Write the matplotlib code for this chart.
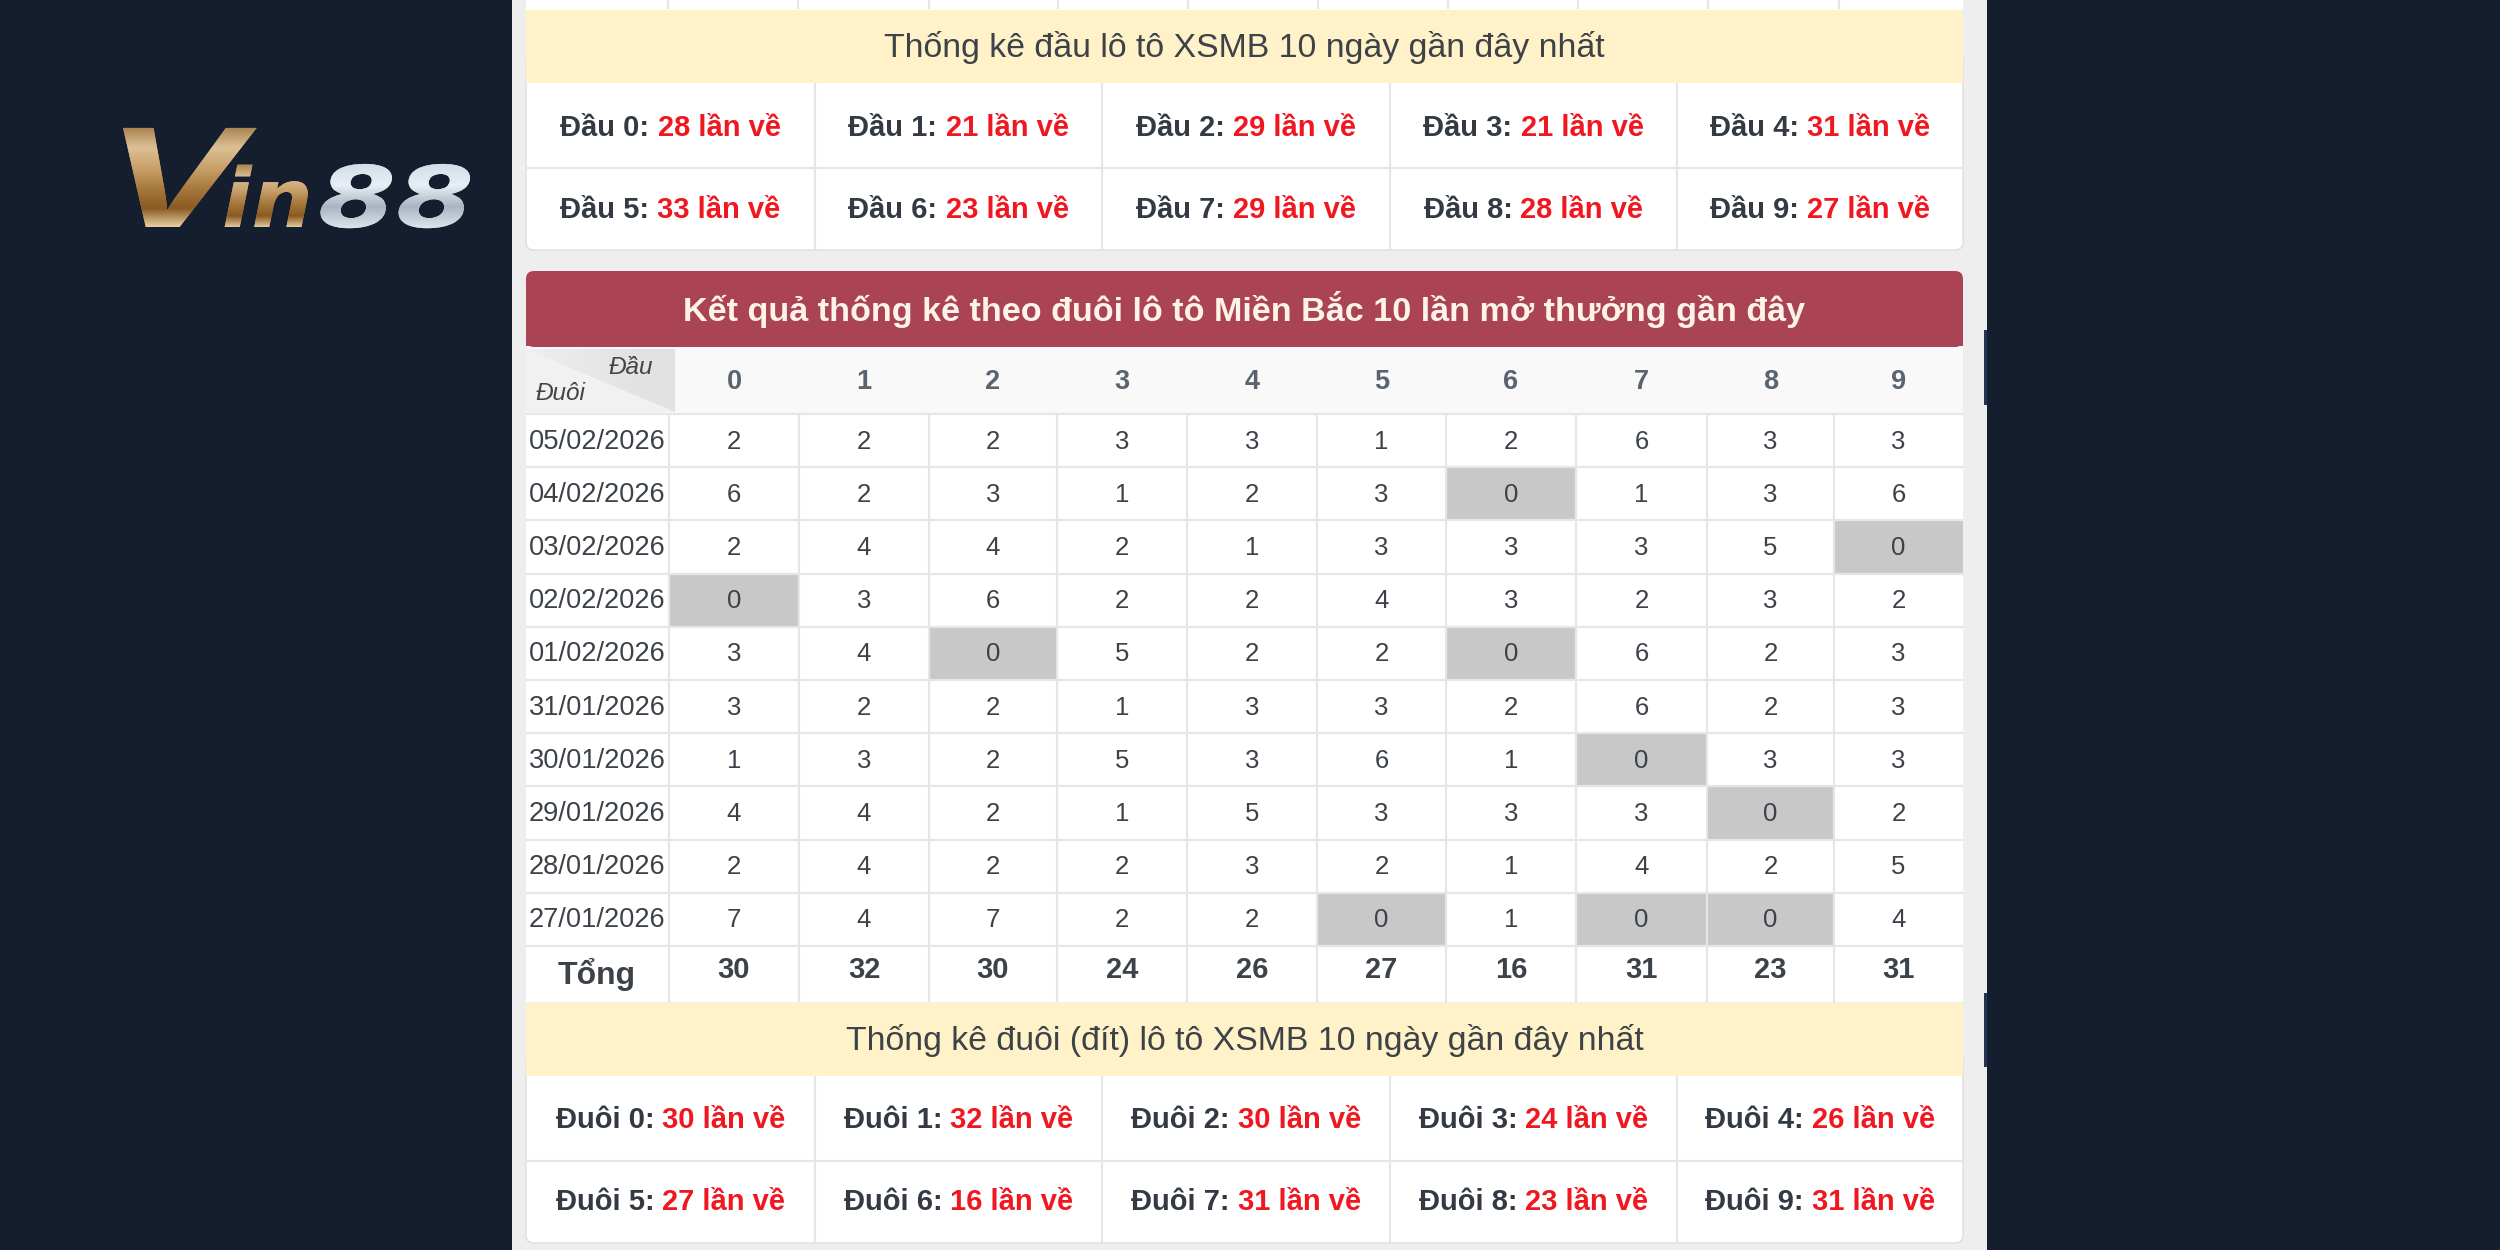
#!/usr/bin/env python3
import numpy as np
import matplotlib
matplotlib.use("Agg")
import matplotlib.pyplot as plt
from matplotlib.colors import LinearSegmentedColormap
from matplotlib.patches import FancyBboxPatch, PathPatch, Polygon, Rectangle
from matplotlib.patheffects import AbstractPathEffect
from matplotlib.font_manager import FontProperties
from matplotlib.text import TextPath
from matplotlib.transforms import Affine2D, IdentityTransform

plt.rcParams["font.family"] = ["Liberation Sans", "DejaVu Sans"]

W, H = 2500, 1250

TITLE_DAU = "Thống kê đầu lô tô XSMB 10 ngày gần đây nhất"
TITLE_MAIN = "Kết quả thống kê theo đuôi lô tô Miền Bắc 10 lần mở thưởng gần đây"
TITLE_DUOI = "Thống kê đuôi (đít) lô tô XSMB 10 ngày gần đây nhất"

DATES = ["05/02/2026", "04/02/2026", "03/02/2026", "02/02/2026", "01/02/2026",
         "31/01/2026", "30/01/2026", "29/01/2026", "28/01/2026", "27/01/2026"]
HEADS = ["0", "1", "2", "3", "4", "5", "6", "7", "8", "9"]
VALUES = [
    [2, 2, 2, 3, 3, 1, 2, 6, 3, 3],
    [6, 2, 3, 1, 2, 3, 0, 1, 3, 6],
    [2, 4, 4, 2, 1, 3, 3, 3, 5, 0],
    [0, 3, 6, 2, 2, 4, 3, 2, 3, 2],
    [3, 4, 0, 5, 2, 2, 0, 6, 2, 3],
    [3, 2, 2, 1, 3, 3, 2, 6, 2, 3],
    [1, 3, 2, 5, 3, 6, 1, 0, 3, 3],
    [4, 4, 2, 1, 5, 3, 3, 3, 0, 2],
    [2, 4, 2, 2, 3, 2, 1, 4, 2, 5],
    [7, 4, 7, 2, 2, 0, 1, 0, 0, 4],
]
TOTALS = [30, 32, 30, 24, 26, 27, 16, 31, 23, 31]
DAU_COUNTS = [28, 21, 29, 21, 31, 33, 23, 29, 28, 27]
DUOI_COUNTS = [30, 32, 30, 24, 26, 27, 16, 31, 23, 31]

BG = "#141e2e"
PANEL = "#eeeeee"
YELLOW = "#fff2c9"
RED_HEAD = "#aa4455"
GRID = "#e6e6e6"
TEXT = "#333a44"
RED = "#f01820"

# pixel edges of the page
CARD_L, CARD_R = 526, 1963
SUM_X = [526, 815, 1102, 1390, 1677, 1963]
TABLE_X = [669, 799, 929, 1057, 1187, 1317, 1446, 1576, 1707, 1834, 1963]
ROW_TOP = 414
ROW_H = 53.2

fig = plt.figure(figsize=(W / 100, H / 100), dpi=100, facecolor=BG)
ax = fig.add_axes([0, 0, 1, 1])
ax.set_xlim(0, W)
ax.set_ylim(H, 0)
ax.axis("off")


def rect(x0, y0, x1, y1, color, z=1):
    ax.add_patch(Rectangle((x0, y0), x1 - x0, y1 - y0, fc=color, ec="none", zorder=z))


def vline(x, y0, y1):
    ax.plot([x, x], [y0, y1], color=GRID, lw=1.6, zorder=3, solid_capstyle="butt")


def hline(x0, x1, y):
    ax.plot([x0, x1], [y, y], color=GRID, lw=1.6, zorder=3, solid_capstyle="butt")


def two_color_label(cx, cy, dark, red, size=21):
    # the red part starts where the full string minus the red part ends
    rend = fig.canvas.get_renderer()
    probe = ax.text(0, 0, dark + red, fontsize=size, fontweight="bold")
    full = probe.get_window_extent(rend).width
    probe.set_text(red)
    red_w = probe.get_window_extent(rend).width
    probe.remove()
    left = cx - full / 2
    ax.text(left, cy, dark, fontsize=size, fontweight="bold", color=TEXT,
            ha="left", va="center_baseline", zorder=5)
    ax.text(left + full - red_w, cy, red, fontsize=size, fontweight="bold", color=RED,
            ha="left", va="center_baseline", zorder=5)


def summary_block(y_title0, y_title1, y_mid, y_bottom, title, word, counts, dy):
    rect(CARD_L, y_title0, CARD_R, y_title1, YELLOW, 2)
    ax.text((CARD_L + CARD_R) / 2, (y_title0 + y_title1) / 2 + 1, title, fontsize=24.4,
            color="#3c4248", ha="center", va="center", zorder=5)
    hline(CARD_L, CARD_R, y_mid)
    for x in SUM_X[1:-1]:
        vline(x, y_title1, y_bottom)
    for i, n in enumerate(counts):
        col, row = i % 5, i // 5
        cx = (SUM_X[col] + SUM_X[col + 1]) / 2
        cy = (y_title1 + y_mid) / 2 + dy[0] if row == 0 else (y_mid + y_bottom) / 2 + dy[1]
        two_color_label(cx, cy, f"{word} {i}: ", f"{n} lần về")


class Stretch(AbstractPathEffect):
    # widens a text about its left edge, the logo glyphs are very wide
    def __init__(self, x0, sx):
        super().__init__()
        self.x0, self.sx = x0, sx

    def draw_path(self, renderer, gc, tpath, affine, rgbFace=None):
        extra = Affine2D().translate(-self.x0, 0).scale(self.sx, 1).translate(self.x0, 0)
        renderer.draw_path(gc, tpath, affine + extra, rgbFace)


def logo_part(s, x, base, px, sx, stops, solid, family="Liberation Sans"):
    prop = FontProperties(family=family, weight="bold", style="italic")
    ax.text(x, base, s, fontproperties=prop, fontsize=px * 0.72, color=solid,
            ha="left", va="baseline", zorder=6, path_effects=[Stretch(x, sx)])
    # same glyphs again as a clip for the metal gradient
    path = TextPath((0, 0), s, size=px, prop=prop)
    tr = Affine2D().scale(sx, 1).translate(x, H - base)
    clip = PathPatch(path, transform=tr + IdentityTransform(), fc="none", ec="none")
    ext = path.get_extents()
    top = base - ext.y1
    cmap = LinearSegmentedColormap.from_list("metal", stops)
    im = ax.imshow(np.linspace(0, 1, 128)[:, None], cmap=cmap, aspect="auto",
                   extent=(x - 10, x + ext.x1 * sx + 10, base + 2, top), zorder=7)
    im.set_clip_path(clip)


# page background
rect(512, 0, 1987, H, PANEL, 0)

# remains of the table above the crop
rect(CARD_L, 0, CARD_R, 10, "white", 1)
for x in [668, 798, 929, 1058, 1188, 1318, 1448, 1578, 1708, 1839]:
    vline(x, 0, 9)

# first summary card
ax.add_patch(FancyBboxPatch((CARD_L + 8, 60), CARD_R - CARD_L - 16, 182,
                            boxstyle="round,pad=8", fc="white", ec="#dddddd", lw=1, zorder=1))
summary_block(10, 83, 168, 250, TITLE_DAU, "Đầu", DAU_COUNTS, (-1, -2))

# table
ax.add_patch(FancyBboxPatch((CARD_L + 8, 279), CARD_R - CARD_L - 16, 60,
                            boxstyle="round,pad=8", fc=RED_HEAD, ec="none", zorder=2))
rect(CARD_L, 300, CARD_R, 346, RED_HEAD, 2)
ax.text((CARD_L + CARD_R) / 2, 309, TITLE_MAIN, fontsize=24.6, fontweight="bold", color="#fdf3e6",
        ha="center", va="center", zorder=5)

rect(CARD_L, 346, CARD_R, ROW_TOP, "#f9f9f9", 1)
rect(CARD_L, ROW_TOP, CARD_R, 1002, "white", 1)

# corner cell, the darker half fades towards the top left
rect(CARD_L, 349, 675, ROW_TOP - 2, "#f1f1f1", 2)
corner = Polygon([(CARD_L, 349), (675, 349), (675, ROW_TOP - 2)], fc="none", ec="none",
                 transform=ax.transData)
ax.add_patch(corner)
corner_cmap = LinearSegmentedColormap.from_list("corner", ["#efefef", "#e2e2e2"])
corner_im = ax.imshow(np.linspace(0, 1, 64)[None, :], cmap=corner_cmap, aspect="auto",
                      extent=(CARD_L, 640, ROW_TOP - 2, 349), zorder=2)
corner_im.set_clip_path(corner)
rect(640, 349, 675, ROW_TOP - 2, "#e2e2e2", 2)
ax.add_patch(Polygon([(640, 397), (675, ROW_TOP - 2), (640, ROW_TOP - 2)], fc="#f1f1f1", ec="none", zorder=2))
ax.text(631, 367, "Đầu", fontsize=17.5, style="italic", color="#444444", ha="center", va="center", zorder=5)
ax.text(561, 393, "Đuôi", fontsize=17.5, style="italic", color="#444444", ha="center", va="center", zorder=5)

for j, head in enumerate(HEADS):
    cx = (TABLE_X[j] + TABLE_X[j + 1]) / 2
    ax.text(cx, 382, head, fontsize=19.5, fontweight="bold", color="#5a6470",
            ha="center", va="center", zorder=5)

for i, date in enumerate(DATES):
    y0 = ROW_TOP + i * ROW_H
    cy = y0 + ROW_H / 2 + 1
    ax.text(597, cy, date, fontsize=19.6, color="#3c4248", ha="center", va="center", zorder=5)
    for j, v in enumerate(VALUES[i]):
        if v == 0:
            rect(TABLE_X[j], y0, TABLE_X[j + 1], y0 + ROW_H, "#c8c8c8", 2)
        cx = (TABLE_X[j] + TABLE_X[j + 1]) / 2
        ax.text(cx, cy, str(v), fontsize=18.5, color="#3c4248", ha="center", va="center", zorder=5)

for i in range(len(DATES) + 1):
    hline(CARD_L, CARD_R, ROW_TOP + i * ROW_H)
for x in TABLE_X[:-1]:
    vline(x, ROW_TOP, 1002)

ax.text(597, 975, "Tổng", fontsize=23, fontweight="bold", color="#3c4248", ha="center", va="center", zorder=5)
for j, total in enumerate(TOTALS):
    cx = (TABLE_X[j] + TABLE_X[j + 1]) / 2
    ax.text(cx, 970, str(total), fontsize=21, fontweight="bold", color="#3c4248",
            ha="center", va="center", zorder=5)

# second summary card
ax.add_patch(FancyBboxPatch((CARD_L + 8, 1060), CARD_R - CARD_L - 16, 175,
                            boxstyle="round,pad=8", fc="white", ec="#dddddd", lw=1, zorder=1))
summary_block(1003, 1076, 1161, 1243, TITLE_DUOI, "Đuôi", DUOI_COUNTS, (-2, -3))

# small marks on the right edge of the page
rect(1984, 330, 1987, 405, "#22344f", 1)
rect(1984, 993, 1987, 1067, "#22344f", 1)

# logo
GOLD = ["#a98352", "#dcc094", "#c8a16a", "#a87a3e", "#8a5a22", "#f0dcb0"]
SILVER = ["#d0dde8", "#e8eff5", "#a8b5c2", "#dfe7ee"]
logo_part("V", 106, 227, 144, 1.42, GOLD, "#c09a62")
logo_part("in", 222, 227, 82, 1.05, GOLD, "#b98c52", family="DejaVu Sans")
logo_part("88", 318, 227, 85, 1.32, SILVER, "#c3ced9", family="DejaVu Sans")

ax.set_xlim(0, W)
ax.set_ylim(H, 0)
fig.savefig("out.png", dpi=100, facecolor=BG)
